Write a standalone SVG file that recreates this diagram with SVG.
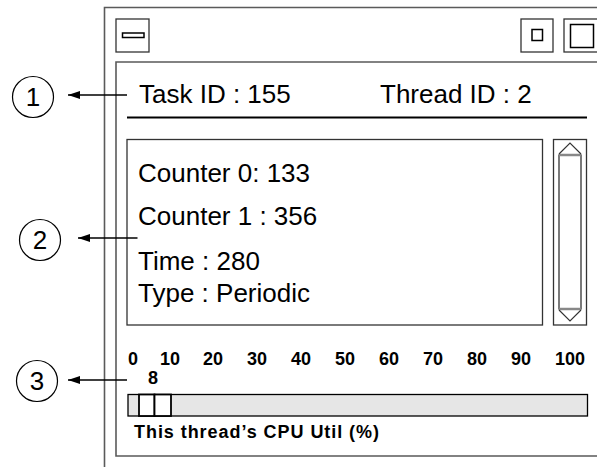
<svg xmlns="http://www.w3.org/2000/svg" width="597" height="467" viewBox="0 0 597 467">
  <style>
    .frame { fill: none; stroke: #5a5a5a; stroke-width: 1.6; }
    .box { fill: #ffffff; stroke: #333333; stroke-width: 1.3; }
    .ink { fill: none; stroke: #000000; stroke-width: 1.5; }
    .txt { font-family: "Liberation Sans", Arial, sans-serif; font-size: 26px; fill: #000000; }
    .num { font-family: "Liberation Sans", Arial, sans-serif; font-size: 18px; font-weight: bold; fill: #000000; }
    .callout { fill: #ffffff; stroke: #000000; stroke-width: 1.2; }
    .conn { stroke: #000000; stroke-width: 1.5; fill: none; }
  </style>
  <defs>
    <marker id="arrow" viewBox="0 0 12 8" refX="12" refY="4" markerWidth="12" markerHeight="8" markerUnits="userSpaceOnUse" orient="auto">
      <path d="M0,0 L12,4 L0,8 Z" fill="#000000"/>
    </marker>
  </defs>

  <rect width="597" height="467" fill="#ffffff"/>

  <!-- window frame -->
  <g id="window">
    <path class="frame" d="M597,7.5 H104.5 V467"/>
    <path class="frame" d="M597,62 H116 V456 H597"/>
    <!-- title bar buttons -->
    <rect class="box" x="116" y="19" width="33" height="33"/>
    <rect class="ink" x="122.5" y="33" width="21.5" height="4.5" stroke-width="1.3"/>
    <rect class="box" x="521" y="19" width="32" height="33"/>
    <rect class="ink" x="532" y="29.5" width="10.5" height="11" stroke-width="1.3"/>
    <rect class="box" x="564" y="19" width="40" height="33"/>
    <rect class="ink" x="570.5" y="24.5" width="23" height="23" stroke-width="1.3"/>
  </g>

  <!-- header line: task and thread ids -->
  <g id="header">
    <text class="txt" x="139" y="103">Task ID : 155</text>
    <text class="txt" x="380" y="103">Thread ID : 2</text>
    <line x1="127" y1="117.5" x2="587" y2="117.5" stroke="#000000" stroke-width="2"/>
  </g>

  <!-- counters panel -->
  <g id="counters">
    <rect x="127" y="139.5" width="415.5" height="185.5" fill="#ffffff" stroke="#333333" stroke-width="1.3"/>
    <text class="txt" x="138" y="182">Counter 0: 133</text>
    <text class="txt" x="138" y="225">Counter 1 : 356</text>
    <text class="txt" x="138" y="270">Time : 280</text>
    <text class="txt" x="138" y="302">Type : Periodic</text>
  </g>

  <!-- vertical scrollbar -->
  <g id="scrollbar">
    <rect x="553.5" y="139.5" width="33" height="185.5" fill="#ffffff" stroke="#333333" stroke-width="1.3"/>
    <rect x="559" y="155" width="22" height="154" fill="#ffffff" stroke="#333333" stroke-width="1.3"/>
    <line x1="559" y1="155" x2="581" y2="155" stroke="#888888" stroke-width="2.5"/>
    <line x1="559" y1="309" x2="581" y2="309" stroke="#888888" stroke-width="2.5"/>
    <path d="M559,154 L570,143 L581,154" fill="none" stroke="#333333" stroke-width="1.2"/>
    <path d="M559,310 L570,321 L581,310" fill="none" stroke="#333333" stroke-width="1.2"/>
  </g>

  <!-- CPU utilisation gauge -->
  <g id="cpu-gauge">
    <g class="num">
      <text x="128" y="365">0</text>
      <text x="160" y="365">10</text>
      <text x="203" y="365">20</text>
      <text x="247" y="365">30</text>
      <text x="291" y="365">40</text>
      <text x="335" y="365">50</text>
      <text x="379" y="365">60</text>
      <text x="423" y="365">70</text>
      <text x="467" y="365">80</text>
      <text x="511" y="365">90</text>
      <text x="555" y="365">100</text>
      <text x="148" y="384">8</text>
    </g>
    <rect x="128" y="394.5" width="459.5" height="21.5" fill="#e6e6e6" stroke="#000000" stroke-width="1.3"/>
    <rect x="139" y="394.5" width="15.5" height="21.5" fill="#ffffff" stroke="#000000" stroke-width="1.8"/>
    <rect x="154.5" y="394.5" width="16.5" height="21.5" fill="#ffffff" stroke="#000000" stroke-width="1.8"/>
    <text class="num" x="134" y="438" font-size="19.5" textLength="245" lengthAdjust="spacing">This thread’s CPU Util (%)</text>
  </g>

  <!-- callout markers -->
  <g id="callout-1">
    <circle class="callout" cx="33" cy="97" r="20.5"/>
    <text class="txt" x="33" y="105.5" text-anchor="middle" font-size="24">1</text>
  </g>
  <g id="callout-2">
    <circle class="callout" cx="40" cy="240" r="20.5"/>
    <text class="txt" x="40" y="248.5" text-anchor="middle" font-size="24">2</text>
  </g>
  <g id="callout-3">
    <circle class="callout" cx="37" cy="381" r="20.5"/>
    <text class="txt" x="37" y="389.5" text-anchor="middle" font-size="24">3</text>
  </g>

  <!-- connectors -->
  <g id="connectors">
    <line class="conn" x1="127" y1="95" x2="68" y2="95" marker-end="url(#arrow)"/>
    <line class="conn" x1="137.5" y1="238" x2="78" y2="238" marker-end="url(#arrow)"/>
    <line class="conn" x1="127" y1="380" x2="68" y2="380" marker-end="url(#arrow)"/>
  </g>
</svg>
